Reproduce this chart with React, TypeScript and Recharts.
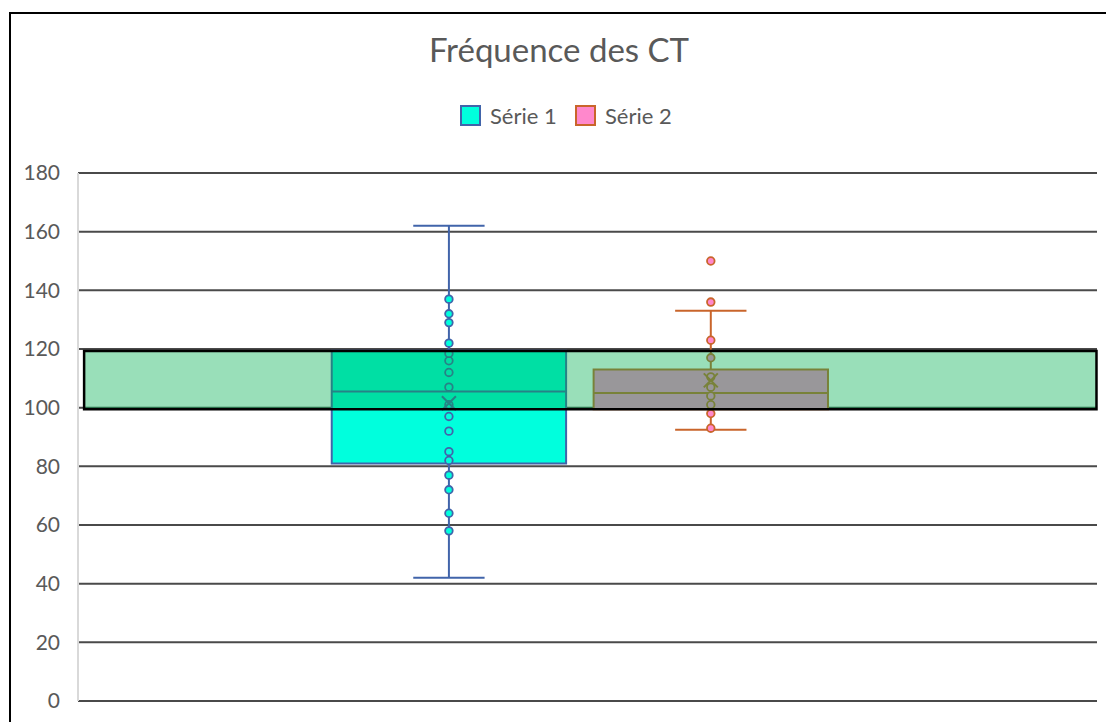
import React from 'react';
import {
  ComposedChart,
  XAxis,
  YAxis,
  CartesianGrid,
  ReferenceArea,
  ReferenceLine,
  Scatter,
} from 'recharts';

// ---- Data -------------------------------------------------------------
const TITLE = 'Fréquence des CT';
const SERIES_NAMES = ['Série 1', 'Série 2'];

// Box-and-whisker statistics per series
const WHISKER_MIN = [42, 92.5];
const QUARTILE_1 = [81, 99.5];
const MEDIANS = [105.5, 105];
const QUARTILE_3 = [119.4, 113];
const WHISKER_MAX = [162, 133];
const MEANS = [101.5, 109.3];

// Individual observations shown as dots
const POINTS_SERIE_1 = [58, 64, 72, 77, 82, 85, 92, 97, 101, 107, 112, 116, 118.5, 122, 129, 132, 137];
const POINTS_SERIE_2 = [93, 98, 101, 104, 107, 110.5, 117, 123, 136, 150];
const POINTS = [POINTS_SERIE_1, POINTS_SERIE_2];

// Target zone overlaid across the plot
const TARGET_BAND = [99.5, 119.3];

const Y_TICKS = [0, 20, 40, 60, 80, 100, 120, 140, 160, 180];

// ---- Layout & style ---------------------------------------------------
const SLOT_CENTERS = [0.364, 0.621];
const BOX_HALF = 0.115;
const CAP_HALF = 0.035;
const BAND_X = [0.006, 0.9995];

const FILLS = ['#00FFDD', '#FF88CC'];
const STROKES = ['#4164AA', '#C9652B'];
const TEXT = '#595959';
const FONT = 'Lato, "Liberation Sans", sans-serif';

const W = 1106;
const H = 722;

function seriesElements(i: number) {
  const c = SLOT_CENTERS[i];
  const stroke = STROKES[i];
  const fill = FILLS[i];
  const seg = (x1: number, y1: number, x2: number, y2: number, key: string) => (
    <ReferenceLine
      key={key}
      segment={[
        { x: x1, y: y1 },
        { x: x2, y: y2 },
      ]}
      stroke={stroke}
      strokeWidth={2}
      ifOverflow="visible"
      zIndex={200}
    />
  );
  return [
    <ReferenceArea
      key={`box-${i}`}
      x1={c - BOX_HALF}
      x2={c + BOX_HALF}
      y1={QUARTILE_1[i]}
      y2={QUARTILE_3[i]}
      fill={fill}
      fillOpacity={1}
      stroke={stroke}
      strokeWidth={2}
      ifOverflow="visible"
      zIndex={150}
    />,
    seg(c - BOX_HALF, MEDIANS[i], c + BOX_HALF, MEDIANS[i], `med-${i}`),
    seg(c, WHISKER_MIN[i], c, QUARTILE_1[i], `wlo-${i}`),
    seg(c, QUARTILE_3[i], c, WHISKER_MAX[i], `whi-${i}`),
    seg(c - CAP_HALF, WHISKER_MIN[i], c + CAP_HALF, WHISKER_MIN[i], `caplo-${i}`),
    seg(c - CAP_HALF, WHISKER_MAX[i], c + CAP_HALF, WHISKER_MAX[i], `caphi-${i}`),
    <Scatter
      key={`pts-${i}`}
      name={SERIES_NAMES[i]}
      data={POINTS[i].map((v) => ({ x: c, y: v }))}
      dataKey="y"
      isAnimationActive={false}
      zIndex={600}
      shape={(p: any) => (
        <circle cx={p.cx} cy={p.cy} r={3.8} fill={fill} stroke={stroke} strokeWidth={1.8} />
      )}
    />,
    <Scatter
      key={`mean-${i}`}
      name={`${SERIES_NAMES[i]} moyenne`}
      data={[{ x: c, y: MEANS[i] }]}
      dataKey="y"
      isAnimationActive={false}
      zIndex={650}
      shape={(p: any) => (
        <g stroke={stroke} strokeWidth={2}>
          <line x1={p.cx - 7} y1={p.cy - 7} x2={p.cx + 7} y2={p.cy + 7} />
          <line x1={p.cx - 7} y1={p.cy + 7} x2={p.cx + 7} y2={p.cy - 7} />
        </g>
      )}
    />,
  ];
}

function Header() {
  // frame edges, title and legend
  const legendX = [460, 575];
  return (
    <svg
      width={W}
      height={H}
      style={{ position: 'absolute', left: 0, top: 0, pointerEvents: 'none' }}
    >
      <path d={`M10 ${H} L10 13 L${W} 13`} fill="none" stroke="#000" strokeWidth={2} />
      <text x={559} y={62} textAnchor="middle" fontFamily={FONT} fontSize={33} fill={TEXT}>
        {TITLE}
      </text>
      {SERIES_NAMES.map((name, i) => (
        <g key={name}>
          <rect
            x={legendX[i] + 1}
            y={106}
            width={19}
            height={19}
            fill={FILLS[i]}
            stroke={STROKES[i]}
            strokeWidth={2}
          />
          <text
            x={legendX[i] + 30}
            y={123.5}
            fontFamily={FONT}
            fontSize={22}
            fill={TEXT}
          >
            {name}
          </text>
        </g>
      ))}
    </svg>
  );
}

export default function App() {
  return (
    <div
      style={{
        position: 'fixed',
        left: 0,
        top: 0,
        width: W,
        height: H,
        overflow: 'hidden',
        background: '#fff',
      }}
    >
      <div style={{ position: 'absolute', left: 0, top: 0 }}>
        <ComposedChart
          width={W}
          height={H}
          margin={{ top: 173, right: 9, bottom: 21, left: 0 }}
        >
          <CartesianGrid vertical={false} stroke="#4a4a4a" strokeWidth={2} />
          <XAxis type="number" dataKey="x" domain={[0, 1]} hide />
          <YAxis
            type="number"
            domain={[0, 180]}
            ticks={Y_TICKS}
            width={78}
            interval={0}
            axisLine={{ stroke: '#D9D9D9', strokeWidth: 2 }}
            tickLine={false}
            tickMargin={12}
            tick={{ fill: TEXT, fontSize: 21, fontFamily: FONT }}
          />
          {seriesElements(0)}
          {seriesElements(1)}
          <ReferenceArea
            x1={BAND_X[0]}
            x2={BAND_X[1]}
            y1={TARGET_BAND[0]}
            y2={TARGET_BAND[1]}
            fill="#00B050"
            fillOpacity={0.4}
            stroke="#000"
            strokeWidth={2.5}
            ifOverflow="visible"
            zIndex={1500}
          />
        </ComposedChart>
      </div>
      <Header />
    </div>
  );
}
